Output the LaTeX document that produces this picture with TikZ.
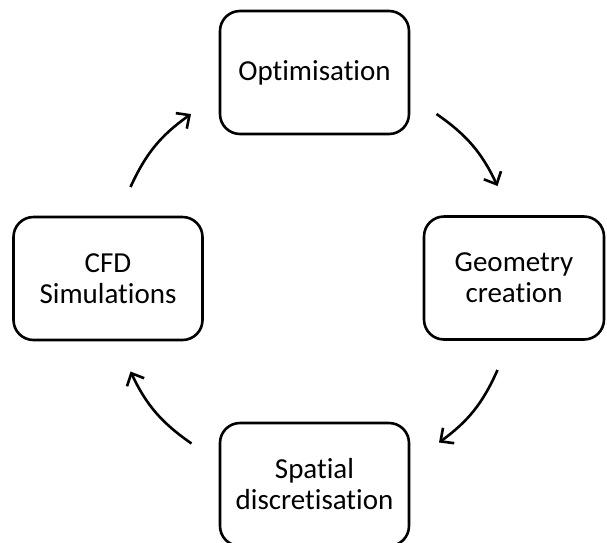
\documentclass[tikz,border=0pt]{standalone}
\usepackage{fontspec}
\setmainfont{Carlito}[Ligatures=NoCommon]
\usetikzlibrary{arrows.meta,positioning}

\tikzset{
  stepbox/.style={draw, line width=2.6pt, rounded corners=20pt,
    minimum width=189pt, minimum height=123pt, inner sep=0pt,
    align=center, font=\fontsize{29}{31}\selectfont},
  flow/.style={-{Straight Barb[length=10pt,width=19pt]},
    line width=2.6pt, bend left=15},
}

\begin{document}
\begin{tikzpicture}[x=1pt, y=-1pt]
  \useasboundingbox (0,0) rectangle (607,542);
  \node [stepbox] (opt) at (314.5,72.5) {Optimisation};
  \node [stepbox, minimum width=180pt] (geo) at (514,278) {Geometry\\creation};
  \node [stepbox] (cfd) at (108,278.5) {CFD\\Simulations};
  \node [stepbox] (spat) at (314.5,484.5) {Spatial\\discretisation};
  % free ends of the arrows
  \coordinate (s1) at (130.5,187);  \coordinate (t1) at (191,114);
  \coordinate (s2) at (436.5,114);  \coordinate (t2) at (497.5,186);
  \coordinate (s3) at (497.5,370);  \coordinate (t3) at (439,442.5);
  \coordinate (s4) at (191.5,443.5); \coordinate (t4) at (130.5,371.5);
  \draw [flow] (s1) to (t1);
  \draw [flow] (s2) to (t2);
  \draw [flow] (s3) to (t3);
  \draw [flow] (s4) to (t4);
\end{tikzpicture}
\end{document}
